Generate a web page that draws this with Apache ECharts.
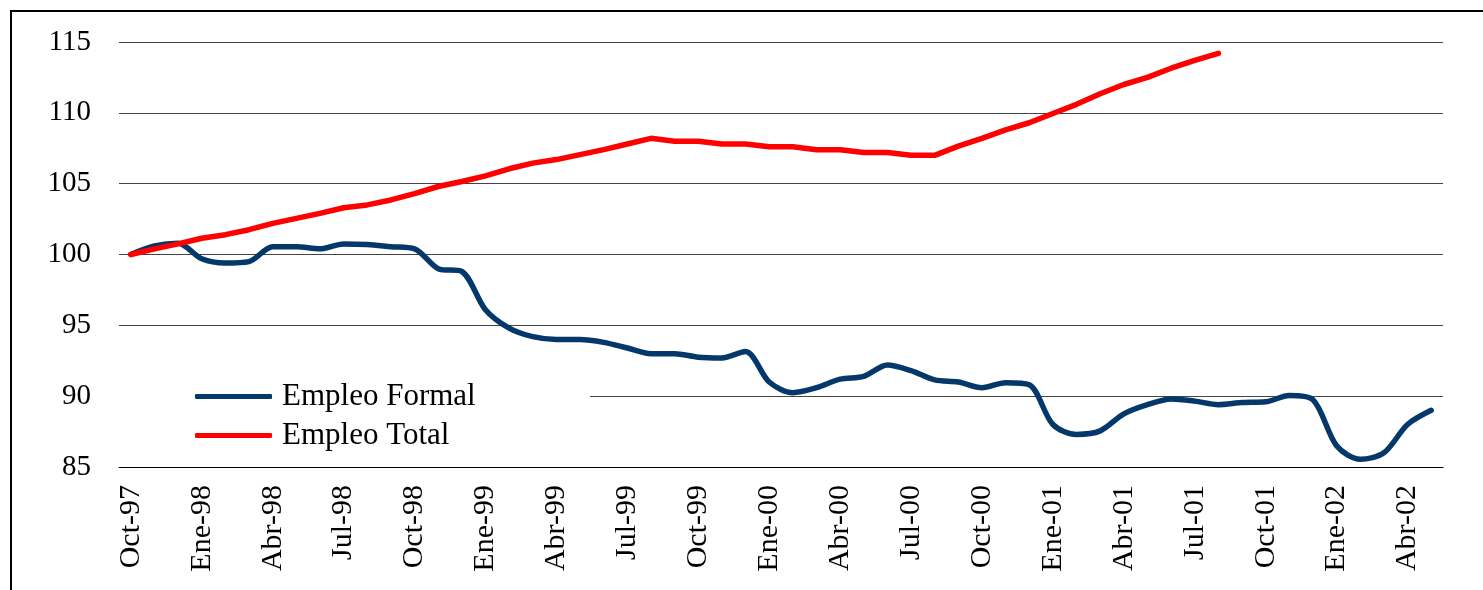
<!DOCTYPE html>
<html>
<head>
<meta charset="utf-8">
<title>Empleo Formal y Total</title>
<script src="https://cdn.jsdelivr.net/npm/echarts@6/dist/echarts.min.js"></script>
<style>
html, body { margin: 0; padding: 0; background: #fff; }
#main { width: 1483px; height: 590px; }
</style>
</head>
<body>
<div id="main"></div>
<script>
// meses Oct-97 .. May-02
var meses = [
    'Oct-97','Nov-97','Dic-97',
    'Ene-98','Feb-98','Mar-98','Abr-98','May-98','Jun-98','Jul-98','Ago-98','Sep-98','Oct-98','Nov-98','Dic-98',
    'Ene-99','Feb-99','Mar-99','Abr-99','May-99','Jun-99','Jul-99','Ago-99','Sep-99','Oct-99','Nov-99','Dic-99',
    'Ene-00','Feb-00','Mar-00','Abr-00','May-00','Jun-00','Jul-00','Ago-00','Sep-00','Oct-00','Nov-00','Dic-00',
    'Ene-01','Feb-01','Mar-01','Abr-01','May-01','Jun-01','Jul-01','Ago-01','Sep-01','Oct-01','Nov-01','Dic-01',
    'Ene-02','Feb-02','Mar-02','Abr-02','May-02'
];

var empleoFormal = [
    100.0, 100.6, 100.8, 99.7, 99.4, 99.5, 100.55, 100.55, 100.4, 100.75, 100.7, 100.55,
    100.4, 99.0, 98.8, 96.1, 94.8, 94.2, 94.0, 94.0, 93.8, 93.4, 93.0, 93.0,
    92.75, 92.7, 93.15, 91.0, 90.25, 90.6, 91.2, 91.4, 92.2, 91.8, 91.15, 91.0,
    90.6, 90.95, 90.8, 88.0, 87.3, 87.55, 88.75, 89.4, 89.8, 89.65, 89.4, 89.55,
    89.6, 90.05, 89.75, 86.5, 85.55, 86.0, 88.0, 89.0
];

var empleoTotal = [
    100.0, 100.4, 100.75, 101.15, 101.4, 101.75, 102.2, 102.55, 102.9, 103.3, 103.5, 103.85,
    104.3, 104.8, 105.15, 105.55, 106.05, 106.45, 106.7, 107.05, 107.4, 107.8, 108.2, 108.0,
    108.0, 107.8, 107.8, 107.6, 107.6, 107.4, 107.4, 107.2, 107.2, 107.0, 107.0, 107.65,
    108.2, 108.8, 109.3, 109.95, 110.6, 111.35, 112.0, 112.5, 113.15, 113.7, 114.2
];

var nombres = ['Empleo Formal', 'Empleo Total'];
var yMin = 85, yMax = 115, yPaso = 5;

var fuente = '"Liberation Serif", "Times New Roman", serif';

var option = {
    animation: false,
    backgroundColor: '#fff',
    grid: {
        left: 119,
        right: 40,
        top: 42,
        bottom: 123
    },
    graphic: [
        {
            // marco del grafico
            type: 'rect',
            z: 10,
            shape: { x: 11, y: 11, width: 1600, height: 700 },
            style: { fill: 'none', stroke: '#000', lineWidth: 2 }
        },
        {
            // fondo blanco de la leyenda, tapa la linea de 90
            type: 'rect',
            z: 1,
            shape: { x: 119, y: 372, width: 471, height: 88 },
            style: { fill: '#fff' }
        }
    ],
    legend: {
        orient: 'vertical',
        left: 195,
        top: 381,
        padding: 0,
        itemWidth: 77,
        itemHeight: 5,
        itemGap: 8,
        icon: 'roundRect',
        data: nombres,
        textStyle: {
            fontFamily: fuente,
            fontSize: 31,
            lineHeight: 31,
            color: '#000',
            padding: [0, 0, 0, 5]
        }
    },
    xAxis: {
        type: 'category',
        data: meses,
        boundaryGap: true,
        axisLine: { lineStyle: { color: '#000', width: 1 } },
        axisTick: { interval: 2, length: 8, lineStyle: { color: '#000' } },
        axisLabel: {
            interval: 2,
            rotate: 90,
            margin: 18,
            fontFamily: fuente,
            fontSize: 30,
            color: '#000'
        },
        splitLine: { show: false }
    },
    yAxis: {
        type: 'value',
        min: yMin,
        max: yMax,
        interval: yPaso,
        axisLine: { show: false },
        axisTick: { show: false },
        axisLabel: {
            margin: 28,
            fontFamily: fuente,
            fontSize: 29,
            color: '#000'
        },
        splitLine: { lineStyle: { color: '#444', width: 1 } }
    },
    series: [
        {
            name: nombres[0],
            type: 'line',
            data: empleoFormal,
            symbol: 'none',
            smooth: 0.3,
            z: 3,
            itemStyle: { color: '#04386b' },
            lineStyle: { color: '#04386b', width: 5.5, cap: 'round', join: 'round' }
        },
        {
            name: nombres[1],
            type: 'line',
            data: empleoTotal,
            symbol: 'none',
            smooth: false,
            z: 4,
            itemStyle: { color: '#ff0000' },
            lineStyle: { color: '#ff0000', width: 5.5, cap: 'round', join: 'round' }
        }
    ]
};

var myChart = echarts.init(document.getElementById('main'));
myChart.setOption(option);
</script>
</body>
</html>
